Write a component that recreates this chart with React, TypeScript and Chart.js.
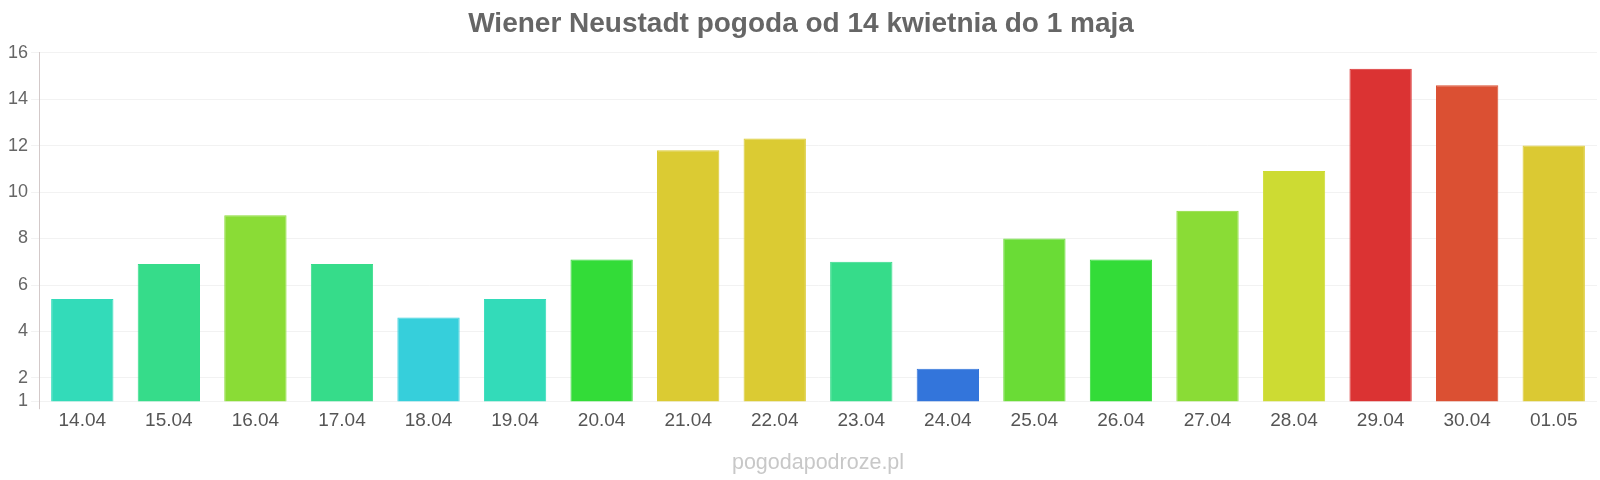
import React, { useEffect, useRef } from "react";
import { Chart, registerables } from "chart.js";

Chart.register(...registerables);

const TITLE = "Wiener Neustadt pogoda od 14 kwietnia do 1 maja";
const FOOTER = "pogodapodroze.pl";

const categories = [
  "14.04", "15.04", "16.04", "17.04", "18.04", "19.04", "20.04", "21.04", "22.04",
  "23.04", "24.04", "25.04", "26.04", "27.04", "28.04", "29.04", "30.04", "01.05",
];

const temperatures = [
  5.4, 6.9, 9.0, 6.9, 4.6, 5.4, 7.1, 11.8, 12.3,
  7.0, 2.4, 8.0, 7.1, 9.2, 10.9, 15.3, 14.6, 12.0,
];

const barColors = [
  "#33dbb9", "#36dc8a", "#8adc36", "#36dc8a", "#36cfdb", "#33dbb9", "#33dc38", "#dbcb33", "#dbcb33",
  "#36dc8a", "#3375db", "#6adc36", "#33dc38", "#8adc36", "#cddb33", "#db3333", "#db5033", "#dbc933",
];

const yTickValues = [1, 2, 4, 6, 8, 10, 12, 14, 16];

const FONT = "'Liberation Sans', Arial, Helvetica, sans-serif";

const footerPlugin = {
  id: "footerText",
  afterDraw(chart: any) {
    const ctx = chart.ctx;
    const area = chart.chartArea;
    ctx.save();
    ctx.font = `21.5px ${FONT}`;
    ctx.fillStyle = "#c8c8c8";
    ctx.textAlign = "center";
    ctx.textBaseline = "middle";
    ctx.fillText(FOOTER, (area.left + area.right) / 2, 463);
    ctx.restore();
  },
};

export default function App() {
  const canvasRef = useRef<HTMLCanvasElement | null>(null);

  useEffect(() => {
    if (!canvasRef.current) return;
    const chart = new Chart(canvasRef.current, {
      type: "bar",
      data: {
        labels: categories,
        datasets: [
          {
            data: temperatures,
            backgroundColor: barColors,
            borderColor: barColors,
            borderWidth: 1,
            barPercentage: 0.9,
            categoryPercentage: 0.8,
          },
        ],
      },
      options: {
        animation: false,
        responsive: false,
        maintainAspectRatio: false,
        devicePixelRatio: 1,
        layout: { padding: { left: 5, right: 3, top: 0, bottom: 48 } },
        plugins: {
          legend: { display: false },
          tooltip: { enabled: false },
          title: {
            display: true,
            text: TITLE,
            color: "#666666",
            font: { family: FONT, size: 28, weight: "bold" },
            padding: { top: 7, bottom: 12 },
          },
        },
        scales: {
          x: {
            grid: {
              display: true,
              drawOnChartArea: false,
              drawTicks: true,
              tickLength: 8,
              color: (c: any) => (c.index === 0 ? "#d3c9c9" : "rgba(0,0,0,0)"),
            },
            border: { display: false },
            ticks: {
              color: "#555555",
              font: { family: FONT, size: 19 },
              padding: 0,
              maxRotation: 0,
              autoSkip: false,
            },
          },
          y: {
            min: 1,
            max: 16,
            afterBuildTicks: (axis: any) => {
              axis.ticks = yTickValues.map((v) => ({ value: v }));
            },
            grid: {
              color: "rgba(0,0,0,0.05)",
              tickLength: 8,
            },
            border: { display: true, color: "#d3c9c9", width: 1 },
            ticks: {
              color: "#666666",
              font: { family: FONT, size: 18 },
              padding: 3,
            },
          },
        },
      },
      plugins: [footerPlugin],
    });
    return () => chart.destroy();
  }, []);

  return (
    <div style={{ position: "fixed", left: 0, top: 0, width: 1600, height: 480, background: "#fff" }}>
      <canvas ref={canvasRef} width={1600} height={480} style={{ width: 1600, height: 480 }} />
    </div>
  );
}
